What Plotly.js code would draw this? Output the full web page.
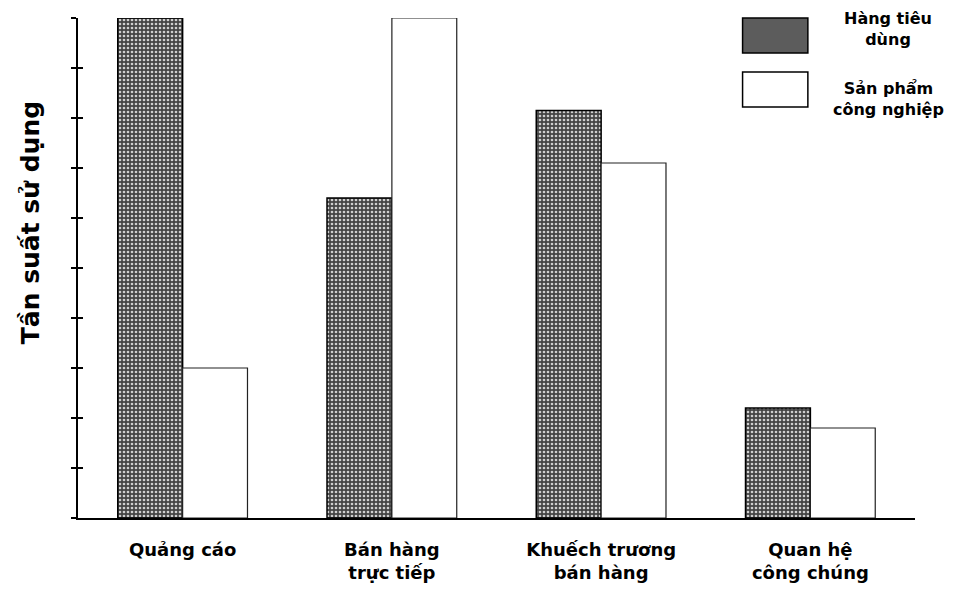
<!DOCTYPE html>
<html>
<head>
<meta charset="utf-8">
<script src="https://cdn.plot.ly/plotly-3.0.1.min.js"></script>
<style>html,body{margin:0;padding:0;background:#fff;}#chart{width:955px;height:590px;}</style>
</head>
<body>
<div id="chart"></div>
<script>
const categories = ["Quảng cáo", "Bán hàng<br>trực tiếp", "Khuếch trương<br>bán hàng", "Quan hệ<br>công chúng"];
const seriesNames = ["Hàng tiêu<br>dùng", "Sản phẩm<br>công nghiệp"];
const consumerGoods = [10, 6.4, 8.15, 2.2];
const industrialProducts = [3, 10, 7.1, 1.8];
const yTicks = [0, 1, 2, 3, 4, 5, 6, 7, 8, 9, 10];

const FONT = "'DejaVu Sans', Arial, sans-serif";

const traces = [
  {
    type: "bar", name: seriesNames[0], x: categories, y: consumerGoods,
    marker: {
      color: "#5a5a5a",
      line: {color: "#000", width: 1.5},
      pattern: {shape: ".", fgcolor: "#cfcfcf", bgcolor: "#444444", size: 4, solidity: 0.35}
    },
    showlegend: false, hoverinfo: "none"
  },
  {
    type: "bar", name: seriesNames[1], x: categories, y: industrialProducts,
    marker: {color: "#ffffff", line: {color: "#222", width: 1.2}},
    showlegend: false, hoverinfo: "none"
  },
  { // invisible trace to attach inside ticks
    type: "scatter", x: [categories[0]], y: [0], yaxis: "y2", mode: "markers",
    marker: {opacity: 0}, showlegend: false, hoverinfo: "none"
  }
];

const layout = {
  width: 955, height: 590,
  margin: {l: 78, r: 40, t: 18, b: 72},
  paper_bgcolor: "#fff", plot_bgcolor: "#fff",
  barmode: "group", bargap: 0.38, bargroupgap: 0,
  font: {family: FONT, color: "#000"},
  xaxis: {
    type: "category", showline: true, linecolor: "#000", linewidth: 2,
    ticks: "", showgrid: false, zeroline: false,
    tickfont: {family: FONT, size: 18, color: "#000", weight: "bold"},
    ticklabelstandoff: 14
  },
  yaxis: {
    range: [0, 10], tickvals: yTicks, showticklabels: false,
    ticks: "outside", ticklen: 5, tickwidth: 1.5, tickcolor: "#000",
    showline: true, linecolor: "#000", linewidth: 2,
    showgrid: false, zeroline: false, fixedrange: true
  },
  yaxis2: {
    overlaying: "y", range: [0, 10], tickvals: yTicks, showticklabels: false,
    ticks: "inside", ticklen: 5, tickwidth: 1.5, tickcolor: "#000",
    showline: false, showgrid: false, zeroline: false, side: "left"
  },
  shapes: [
    {type: "rect", xref: "paper", yref: "paper", x0: 0.794, x1: 0.872, y0: 0.93, y1: 1.0,
     fillcolor: "#5c5c5c", line: {color: "#000", width: 1.5}},
    {type: "rect", xref: "paper", yref: "paper", x0: 0.794, x1: 0.872, y0: 0.822, y1: 0.892,
     fillcolor: "#fff", line: {color: "#000", width: 1.5}}
  ],
  annotations: [
    {text: "Tần suất sử dụng", xref: "paper", yref: "paper", x: -0.057, y: 0.59,
     xanchor: "center", yanchor: "middle", textangle: -90, showarrow: false,
     font: {family: FONT, size: 25, color: "#000", weight: "bold"}},
    {text: seriesNames[0], xref: "paper", yref: "paper", x: 0.968, y: 1.022,
     xanchor: "center", yanchor: "top", showarrow: false, align: "center",
     font: {family: FONT, size: 16, color: "#000", weight: "bold"}},
    {text: seriesNames[1], xref: "paper", yref: "paper", x: 0.968, y: 0.882,
     xanchor: "center", yanchor: "top", showarrow: false, align: "center",
     font: {family: FONT, size: 16, color: "#000", weight: "bold"}}
  ]
};

Plotly.newPlot("chart", traces, layout, {displayModeBar: false, staticPlot: true});
</script>
</body>
</html>
